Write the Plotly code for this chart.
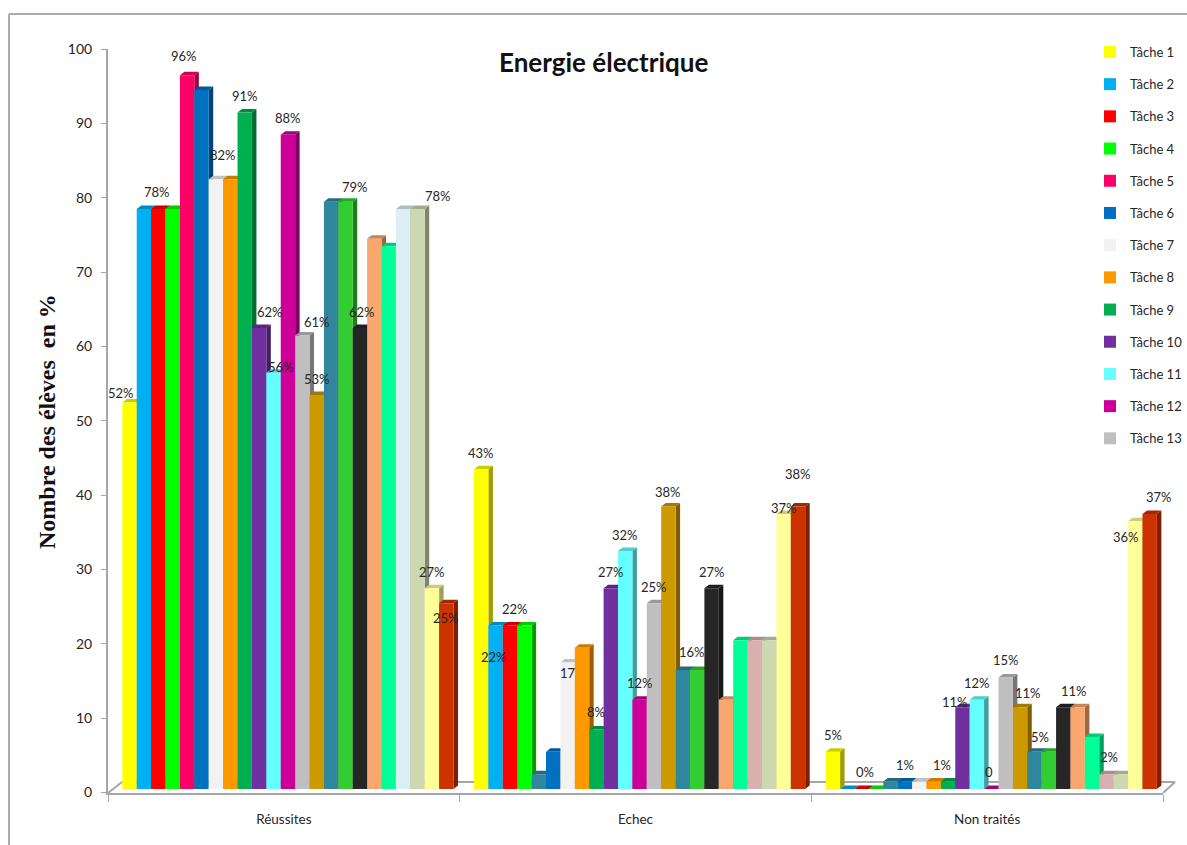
import plotly.graph_objects as go

WIDTH, HEIGHT = 1187, 845

categories = ["Réussites", "Echec", "Non traités"]
series_names = [f"Tâche {n}" for n in range(1, 24)]

reussites = [52, 78, 78, 78, 96, 94, 82, 82, 91, 62, 56, 88, 61, 53, 79, 79, 62, 74, 73, 78, 78, 27, 25]
echec = [43, 22, 22, 22, 2, 5, 17, 19, 8, 27, 32, 12, 25, 38, 16, 16, 27, 12, 20, 20, 20, 37, 38]
non_traites = [5, 0, 0, 0, 1, 1, 1, 1, 1, 11, 12, 0, 15, 11, 5, 5, 11, 11, 7, 2, 2, 36, 37]
groups = [reussites, echec, non_traites]

series_colors = [
    "#FFFF00", "#00B0F0", "#FF0000", "#00FF00", "#31859C", "#0070C0", "#F2F2F2", "#FF9900",
    "#00B050", "#7030A0", "#66FFFF", "#CC0099", "#BFBFBF", "#CC9900", "#31859C", "#33CC33",
    "#262626", "#FAA76F", "#00FF99", "#D9B0AE", "#CCD9B0", "#FFFF99", "#CC3300",
]
# Individually recoloured points: (series index, group index) -> colour
point_colors = {(4, 0): "#FF0066", (19, 0): "#DBEEF4"}

LEGEND_ENTRIES = 13

# Data labels per group: series index, horizontal nudge, lift above the bar top (pixels)
label_spots = [
    [(0, -9, 9), (2, -1, 17), (4, -3, 19), (6, 7, 24), (8, 0, 16), (9, 11, 16), (10, 7, 6),
     (11, 0, 17), (12, 15, 13), (13, 0, 16), (15, 9, 15), (16, 2, 16), (20, 20, 13),
     (21, 0, 16), (22, 0, -15)],
    [(0, 0, 16), (1, -2, -32), (3, -9, 16), (6, 0, -10), (8, 0, 18), (9, 0, 16), (10, 0, 16),
     (11, 0, 17), (12, 0, 16), (13, 0, 14), (15, -5, 18), (16, 0, 16), (21, 0, 6), (22, 0, 32)],
    [(0, 0, 17), (2, 3, 17), (5, 0, 17), (8, -6, 17), (9, -7, 5), (10, 0, 17), (11, -2, 17),
     (12, 0, 17), (13, 8, 14), (15, -9, 15), (17, -4, 16), (19, 3, 17), (21, -9, -16), (22, 9, 17)],
]
# These two labels lose their percent sign behind a neighbouring bar
clipped_labels = {(6, 1), (11, 2)}

# Plot frame in pixels
X0, X1 = 108, 1163
Y0, Y100 = 792.5, 49
PX_PER_GROUP = (X1 - X0) / 3
PX_PER_UNIT = (Y0 - Y100) / 100
BAR_PX = 14.4
GROUP_SHIFT_PX = 4.1      # bars sit slightly right of the tick interval
BASE_LIFT_PX = 3.5        # bars stand on the floor, above the front edge
DEPTH_X_PX, DEPTH_Y_PX = 4.5, 3.5

bar_w = BAR_PX / PX_PER_GROUP
group_w = bar_w * len(series_names)
x_range = [-0.5 - GROUP_SHIFT_PX / PX_PER_GROUP, 2.5 - GROUP_SHIFT_PX / PX_PER_GROUP]
y_range = [-BASE_LIFT_PX / PX_PER_UNIT, 100 - BASE_LIFT_PX / PX_PER_UNIT]
depth_x = DEPTH_X_PX / PX_PER_GROUP
depth_y = DEPTH_Y_PX / PX_PER_UNIT


def shade(hex_color, factor):
    r, g, b = (int(hex_color[i:i + 2], 16) for i in (1, 3, 5))
    return f"rgb({int(r * factor)},{int(g * factor)},{int(b * factor)})"


def color_of(s, g):
    return point_colors.get((s, g), series_colors[s])


def bar_left(s, g):
    return g - group_w / 2 + s * bar_w


fig = go.Figure()

# Carries the visible axes, which overlay subplots are stacked on
fig.add_trace(go.Scatter(
    x=[0.5, 1.5, 2.5], y=[0, 0, 0], mode="markers", marker=dict(opacity=0),
    showlegend=False, hoverinfo="skip",
))

# Oblique side and top faces of each bar, left to right so later bars overlap earlier ones
for s in range(len(series_names)):
    for g, values in enumerate(groups):
        v = values[s]
        left = bar_left(s, g)
        right = left + bar_w
        col = color_of(s, g)
        fig.add_trace(go.Scatter(
            x=[right, right + depth_x, right + depth_x, right, right],
            y=[0, depth_y, v + depth_y, v, 0],
            mode="lines", line=dict(width=0), fill="toself", fillcolor=shade(col, 0.62),
            xaxis="x2", yaxis="y2", showlegend=False, hoverinfo="skip",
        ))
        fig.add_trace(go.Scatter(
            x=[left, left + depth_x, right + depth_x, right, left],
            y=[v, v + depth_y, v + depth_y, v, v],
            mode="lines", line=dict(width=0), fill="toself", fillcolor=shade(col, 0.8),
            xaxis="x2", yaxis="y2", showlegend=False, hoverinfo="skip",
        ))

# Front faces
for s, name in enumerate(series_names):
    fig.add_trace(go.Bar(
        name=name,
        x=categories,
        y=[values[s] for values in groups],
        marker=dict(color=[color_of(s, g) for g in range(3)], line=dict(width=0)),
        xaxis="x3", yaxis="y3",
        showlegend=s < LEGEND_ENTRIES,
        legendgroup=name,
    ))

label_font = dict(family="Lato, Carlito, sans-serif", size=13, color="#262626")
annotations = []
for g, spots in enumerate(label_spots):
    for s, dx, lift in spots:
        v = groups[g][s]
        annotations.append(dict(
            x=bar_left(s, g) + bar_w / 2, y=v, xref="x2", yref="y2",
            text=f"{v}" if (s, g) in clipped_labels else f"{v}%",
            showarrow=False, xshift=dx, yshift=lift, font=label_font,
            xanchor="center", yanchor="middle",
        ))

annotations.append(dict(
    x=604 / WIDTH, y=1 - 62 / HEIGHT, xref="paper", yref="paper", text="<b>Energie électrique</b>",
    showarrow=False, xanchor="center", yanchor="middle",
    font=dict(family="Lato, Carlito, sans-serif", size=26, color="#111111"),
))
annotations.append(dict(
    x=47 / WIDTH, y=1 - 422 / HEIGHT, xref="paper", yref="paper", text="<b>Nombre des élèves  en %</b>",
    showarrow=False, textangle=-90, xanchor="center", yanchor="middle",
    font=dict(family="Liberation Serif", size=24, color="#111111"),
))


def px_line(x0, y0, x1, y1, color="#A6A6A6", width=2):
    return dict(type="line", xref="paper", yref="paper", x0=x0 / WIDTH, x1=x1 / WIDTH,
                y0=1 - y0 / HEIGHT, y1=1 - y1 / HEIGHT, line=dict(color=color, width=width),
                layer="below")


shapes = [
    px_line(9, 14, WIDTH, 14, "#ABABAB"),
    px_line(9, 14, 9, HEIGHT, "#ABABAB"),
    px_line(X0, 793, 122, 782),
    px_line(122, 782, 1175, 782),
    px_line(X1, 793, 1175, 782),
]

domain_x = [X0 / WIDTH, X1 / WIDTH]
domain_y = [1 - Y0 / HEIGHT, 1 - Y100 / HEIGHT]

fig.update_layout(
    width=WIDTH, height=HEIGHT,
    margin=dict(l=0, r=0, t=0, b=0, autoexpand=False),
    paper_bgcolor="white", plot_bgcolor="white",
    barmode="group", bargap=1 - group_w, bargroupgap=0,
    font=dict(family="Lato, Carlito, sans-serif", size=13, color="#262626"),
    showlegend=True,
    legend=dict(
        x=1100 / WIDTH, y=1 - 37 / HEIGHT, xanchor="left", yanchor="top",
        font=dict(size=13), traceorder="grouped", tracegroupgap=12.3, itemwidth=30,
        indentation=-10, bgcolor="rgba(0,0,0,0)",
    ),
    annotations=annotations,
    shapes=shapes,
    # Visible axes: value scale, and category labels centred between boundary ticks
    xaxis=dict(
        domain=domain_x, range=[0, 3], tickvals=[0.5, 1.5, 2.5], ticktext=categories,
        ticks="", showgrid=False, zeroline=False, showline=True, linecolor="#A6A6A6", linewidth=2,
        minor=dict(tickvals=[0, 1, 2, 3], ticks="outside", ticklen=7, tickcolor="#A6A6A6", showgrid=False),
        tickfont=dict(size=13.5), ticklabelstandoff=13,
    ),
    yaxis=dict(
        domain=domain_y, range=[0, 100], tick0=0, dtick=10, ticks="outside", ticklen=5,
        tickcolor="#A6A6A6", showgrid=False, zeroline=False, showline=True,
        linecolor="#A6A6A6", linewidth=2, tickfont=dict(size=14), ticklabelstandoff=6,
    ),
    # Depth faces
    xaxis2=dict(overlaying="x", range=x_range, visible=False),
    yaxis2=dict(overlaying="y", range=y_range, visible=False),
    # Front faces
    xaxis3=dict(overlaying="x", type="category", categoryorder="array", categoryarray=categories,
                range=x_range, visible=False),
    yaxis3=dict(overlaying="y", range=y_range, visible=False),
)

fig.write_html("out.html", config=dict(displayModeBar=False))
